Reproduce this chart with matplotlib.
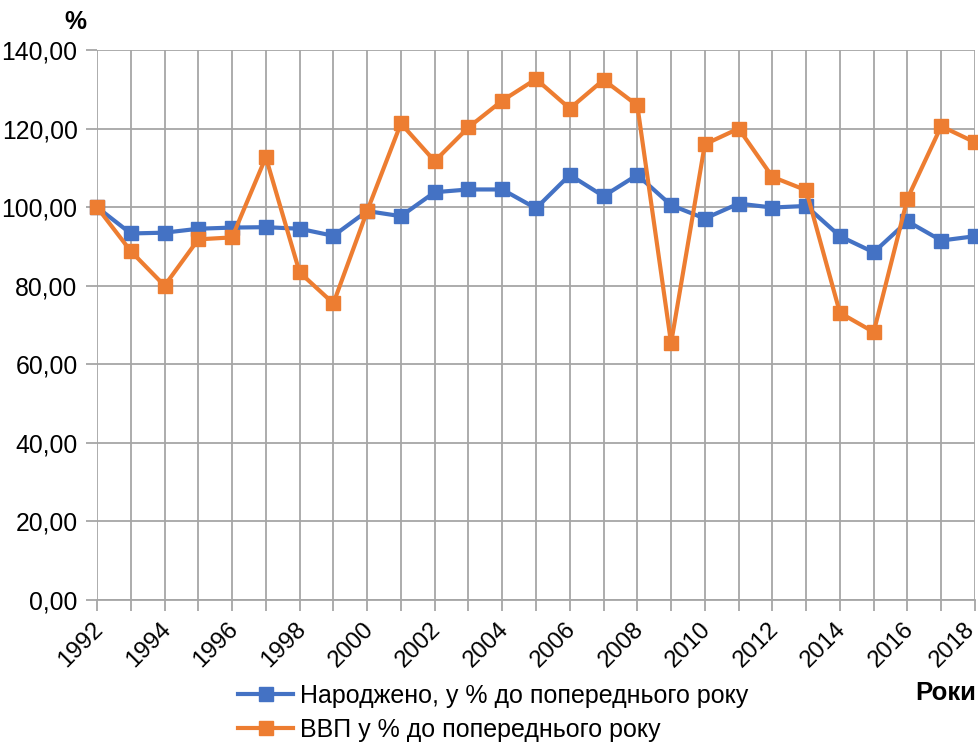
import matplotlib
matplotlib.use("Agg")
import matplotlib.pyplot as plt
import matplotlib.transforms as mtransforms
from matplotlib.ticker import FuncFormatter, MultipleLocator

plt.rcParams['font.family'] = ['Liberation Sans', 'DejaVu Sans']

years = list(range(1992, 2019))
born = [100.0, 93.3, 93.5, 94.5, 94.8, 94.9, 94.5, 92.7, 99.0, 97.7,
        103.8, 104.5, 104.5, 99.7, 108.2, 102.8, 108.2, 100.5, 97.1, 100.9,
        99.9, 100.3, 92.6, 88.5, 96.4, 91.5, 92.6]
gdp = [100.0, 88.8, 80.0, 91.8, 92.3, 112.7, 83.4, 75.5, 99.0, 121.3,
       111.7, 120.3, 127.1, 132.6, 125.1, 132.4, 125.9, 65.4, 116.0, 120.0,
       107.7, 104.3, 73.1, 68.2, 102.2, 120.6, 116.5]
label_born = "Народжено, у % до попереднього року"
label_gdp = "ВВП у % до попереднього року"

fig = plt.figure(figsize=(9.79, 7.42), dpi=100)
ax = fig.add_axes([97/979, 1-600/742, (975-97)/979, 550/742])

grid_c = '#a6a6a6'
ax.plot(years, born, color='#4472C4', lw=3, marker='s', ms=10, label=label_born, zorder=3, clip_on=False)
ax.plot(years, gdp, color='#ED7D31', lw=3, marker='s', ms=10, label=label_gdp, zorder=4, clip_on=False)

ax.set_xlim(1992, 2018)
ax.set_ylim(0, 140)
ax.yaxis.set_major_locator(MultipleLocator(20))
ax.yaxis.set_major_formatter(FuncFormatter(lambda v, p: f"{v:.2f}".replace('.', ',')))
ax.set_xticks(years)
ax.set_xticklabels([str(y) if (y - 1992) % 2 == 0 else '' for y in years],
                   rotation=45, ha='right', rotation_mode='anchor')
ax.grid(True, color=grid_c, lw=1.3)
ax.set_axisbelow(True)
for s in ['top', 'right', 'left']:
    ax.spines[s].set_visible(False)
ax.spines['bottom'].set_color(grid_c)
ax.spines['bottom'].set_linewidth(1.3)
ax.tick_params(axis='both', colors=grid_c, length=8, width=1.3, labelsize=17.8, labelcolor='black')
ax.tick_params(axis='x', pad=5, labelsize=17.3)
ax.tick_params(axis='y', pad=6)

xlabels = ax.get_xticklabels()
for i, lbl in enumerate(xlabels):
    dx = -5 if i < len(xlabels) - 1 else -12
    off = mtransforms.ScaledTranslation(dx/100, 0, fig.dpi_scale_trans)
    lbl.set_transform(lbl.get_transform() + off)

fig.text(75/979, 1-22/742, '%', fontsize=17.8, fontweight='bold', ha='center', va='center')
fig.text(976/979, 1-693/742, 'Роки', fontsize=18.5, fontweight='bold', ha='right', va='center')

fig.legend(loc='upper left', bbox_to_anchor=(238/979, 1-684/742), frameon=False,
           fontsize=18, handlelength=2.2, handletextpad=0.3, labelspacing=0.4,
           borderaxespad=0, borderpad=0)

fig.savefig('out.png', dpi=100)
